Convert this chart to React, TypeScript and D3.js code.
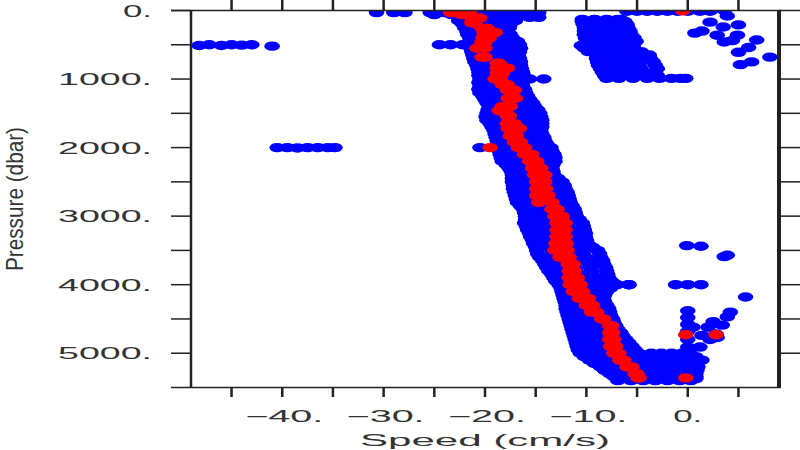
import React from "react";
import * as d3 from "d3";

const xTicks = [-45,-40,-35,-30,-25,-20,-15,-10,-5,0,5];
const xLabels = [-40,-30,-20,-10,0];
const yTicks = [0,500,1000,1500,2000,2500,3000,3500,4000,4500,5000];
const yLabels = [0,1000,2000,3000,4000,5000];

// [pressure, speeds...]
const blueBand: number[][] = [
[30,-25.4,-24,-22.6,-21.2,-19.8,-18.4,-17,-15.6,-14.7],
[60,-25,-23.3,-21.9,-20.5,-19.1,-17.7,-16.3,-15.2],
[100,-22.5,-21,-19.6,-18.2,-16.8,-15.6,-14.7],
[150,-22.6,-21.3,-20,-18.8,-17.6,-17],
[200,-22.2,-20.8,-19.4,-18,-17.5],
[250,-22,-20.6,-19.2,-18,-17.6],
[300,-21.8,-20.5,-19.2,-17.8],
[350,-21.7,-20.4,-19.1,-17.9,-17.5],
[400,-21.5,-20.2,-18.9,-17.3],
[450,-21.4,-20,-18.6,-17.4,-16.8],
[500,-24.5,-23.4,-22.2,-21,-19.8,-18.5,-17.5,-16.6],
[550,-21.4,-20.1,-18.8,-17.6,-16.5],
[600,-21.3,-20,-18.7,-17.5,-16.6],
[650,-21.2,-19.9,-18.6,-17.4,-16.7],
[700,-21.1,-19.8,-18.5,-17.4,-16.6],
[750,-21,-19.7,-18.4,-17.3,-16.5],
[800,-20.8,-19.6,-18.4,-17.3,-16.5],
[850,-20.7,-19.5,-18.3,-17.2,-16.4],
[900,-20.6,-19.4,-18.2,-17.1,-16.3],
[950,-20.6,-19.3,-18.1,-17,-16.2],
[1000,-20.5,-19.2,-18,-16.8,-15.6,-14.2],
[1050,-20.6,-19.3,-18.1,-16.9,-16.4],
[1100,-20.5,-19.2,-18,-17,-16.3],
[1150,-20.6,-19.3,-18.1,-17,-16.1],
[1200,-20.5,-19.2,-18,-17,-16],
[1250,-20.2,-19,-17.8,-16.8,-15.8],
[1300,-20,-18.8,-17.6,-16.6,-15.6],
[1350,-19.8,-18.6,-17.4,-16.3,-15.3],
[1400,-19.6,-18.4,-17.2,-16.1,-15.1],
[1450,-19.7,-18.4,-17.1,-16,-14.8],
[1500,-19.8,-18.5,-17.2,-15.9,-14.6],
[1550,-19.9,-18.6,-17.3,-15.9,-14.5],
[1600,-19.8,-18.5,-17.2,-15.8,-14.4],
[1650,-19.5,-18.2,-17,-15.7,-14.4],
[1700,-19.3,-18,-16.8,-15.6,-14.4],
[1750,-19.1,-17.9,-16.7,-15.5,-14.5],
[1800,-19,-17.8,-16.6,-15.5,-14.4],
[1850,-18.9,-17.7,-16.5,-15.3,-14.2],
[1900,-18.8,-17.6,-16.4,-15.2,-14.1],
[1950,-18.7,-17.4,-16.2,-15,-13.9],
[2000,-20.5,-19,-17.6,-16.2,-14.8,-13.5],
[2050,-18.6,-17.3,-16.1,-14.8,-13.4],
[2100,-18.5,-17.2,-16,-14.6,-13.2],
[2150,-18.4,-17.1,-15.9,-14.5,-13.1],
[2200,-18.3,-17,-15.8,-14.4,-13.1],
[2250,-17.9,-16.7,-15.6,-14.4,-13.3],
[2300,-17.6,-16.5,-15.4,-14.4,-13.4],
[2350,-17.4,-16.3,-15.3,-14.3,-13.3],
[2400,-17.3,-16.2,-15.2,-14.2,-13.2],
[2450,-17.3,-16.1,-15,-13.9,-12.8],
[2500,-17.3,-16,-14.8,-13.6,-12.4],
[2550,-17.2,-16,-14.7,-13.5,-12.2],
[2600,-17.2,-16,-14.6,-13.3,-12.1],
[2650,-17.1,-15.8,-14.5,-13.2,-11.9],
[2700,-17,-15.7,-14.4,-13.1,-11.8],
[2750,-16.9,-15.6,-14.3,-13,-11.7],
[2800,-16.8,-15.5,-14.2,-12.9,-11.6],
[2850,-16.5,-15.2,-14,-12.7,-11.4],
[2900,-16.2,-15,-13.8,-12.5,-11.2],
[2950,-16.1,-14.9,-13.7,-12.4,-11.1],
[3000,-16,-14.8,-13.6,-12.3,-11],
[3050,-16,-14.8,-13.5,-12.1,-10.7],
[3100,-16.1,-14.8,-13.4,-11.9,-10.4],
[3150,-15.9,-14.6,-13.2,-11.8,-10.3],
[3200,-15.8,-14.4,-13,-11.6,-10.2],
[3250,-15.6,-14.3,-12.9,-11.5,-10.1],
[3300,-15.5,-14.2,-12.8,-11.4,-10.1],
[3350,-15.3,-14,-12.6,-11.3,-10],
[3400,-15.2,-13.9,-12.5,-11.2,-9.9],
[3450,-15,-13.6,-12.2,-10.8,-9.4],
[3500,-14.9,-13.4,-11.9,-10.4,-8.9],
[3550,-14.8,-13.3,-11.8,-10.3,-8.7],
[3600,-14.6,-13.1,-11.6,-10.1,-8.6],
[3650,-14.3,-12.9,-11.4,-9.9,-8.4],
[3700,-14.1,-12.7,-11.2,-9.7,-8.3],
[3750,-13.9,-12.6,-11.1,-9.6,-8.1],
[3800,-13.7,-12.4,-11,-9.5,-8],
[3850,-13.4,-12.1,-10.8,-9.4,-7.9],
[3900,-13.2,-11.9,-10.5,-9.2,-7.8],
[3950,-13,-11.6,-10.2,-8.9,-7.5],
[4000,-12.7,-11.3,-9.9,-8.5,-7.1,-5.8],
[4050,-12.5,-11.3,-10.1,-8.9,-7.6],
[4100,-12.4,-11.2,-10.2,-9.1,-8],
[4150,-12.3,-11.2,-10.2,-9.2,-8.2],
[4200,-12.2,-11.1,-10.1,-9.2,-8.3],
[4250,-12.1,-11,-10,-9.1,-8.2],
[4300,-12,-11,-10,-9,-8],
[4350,-12,-10.9,-9.9,-8.9,-7.8],
[4400,-11.9,-10.8,-9.8,-8.7,-7.7],
[4450,-11.8,-10.7,-9.7,-8.6,-7.6],
[4500,-11.7,-10.6,-9.6,-8.5,-7.4],
[4550,-11.6,-10.5,-9.4,-8.4,-7.3],
[4600,-11.5,-10.4,-9.3,-8.2,-7.1],
[4650,-11.4,-10.3,-9.1,-8,-6.9],
[4700,-11.3,-10.2,-9,-7.8,-6.6],
[4750,-11.2,-10,-8.8,-7.6,-6.4],
[4800,-11.1,-9.9,-8.7,-7.4,-6.1],
[4850,-11,-9.8,-8.5,-7.2,-5.8],
[4900,-10.9,-9.6,-8.2,-6.9,-5.5],
[4950,-10.8,-9.4,-8,-6.6,-5.2],
[5000,-10.6,-9.2,-7.8,-6.3,-4.8,-3.6,-2.6,-1.6,-0.6,0.2],
[5050,-10.2,-8.8,-7.4,-6,-4.6,-3.4,-2.2,-1.2,-0.2,0.8],
[5100,-9.7,-8.4,-7,-5.7,-4.4,-3.2,-2,-0.8,0.4,1.4],
[5150,-9.2,-7.9,-6.6,-5.3,-4.1,-2.9,-1.7,-0.5,0.7],
[5200,-8.6,-7.4,-6.2,-5,-3.8,-2.6,-1.4,-0.2,1],
[5250,-8.2,-7,-5.8,-4.6,-3.4,-2.2,-1,0.2,0.9],
[5300,-7.7,-6.6,-5.4,-4.2,-3,-1.8,-0.6,0.8],
[5340,-7.3,-6.2,-5,-3.8,-2.6,-1.4,-0.2,0.8],
[5370,-7,-5.9,-4.8,-3.6,-2.4,-1.2,0,0.8],
[5400,-6.9,-5.6,-4.4,-3.2,-2,-0.8,0.3],
];

// [pressure, speeds...] blue cluster between -11 and 0 cm/s near the surface
const blueCluster: number[][] = [
[130,-10.4,-9.2,-8,-6.9,-6.6],
[160,-10.4,-9.2,-7.8,-6.6,-6.2],
[200,-10.3,-9.1,-7.9,-6.7,-6],
[250,-10.2,-9,-7.8,-6.6,-5.9],
[300,-10.2,-9,-7.8,-6.6,-5.7],
[350,-10.2,-9,-7.8,-6.4,-5.6],
[400,-10.1,-8.9,-7.7,-6.3,-5.3],
[450,-10,-8.8,-7.6,-6.2,-5.1],
[510,-10.5,-9.2,-7.8,-6.6,-5.4],
[550,-10.2,-9,-7.6,-6.3,-5.3],
[600,-9.8,-8.6,-7.4,-6,-4.6],
[650,-9,-7.8,-6.6,-5.4,-3.8],
[700,-9,-7.8,-6.4,-5,-3.7],
[750,-8.9,-7.7,-6.3,-4.9,-3.4],
[800,-8.8,-7.6,-6.2,-4.8,-3.2],
[850,-8.6,-7.4,-6,-4.6,-3],
[900,-8.4,-7.2,-5.8,-4.4,-3.2],
[950,-8.2,-7,-5.6,-4.2,-3],
[990,-8,-6.8,-5.4,-4,-2.8,-1.6,-0.7,-0.2],
];

const blueTopSpeed = [-30.7,-29,-27.9,-6,-5,-4,-3,-2,-1,0,1.2,2.2];
const blueTopPressure = [30,30,30,10,10,10,10,10,10,10,10,10];
const blueScatterSpeed = [3.6,3.9,2.2,3.5,5,0.7,1.4,2.9,4.9,6.8,3.6,4.4,6,5,8.1,6.3,5.2];
const blueScatterPressure = [0,80,170,240,210,330,300,360,360,430,460,440,540,610,680,750,790];
const blueFarSpeed = [-48.2,-47.2,-46,-45,-44,-43,-41,-40.5,-39.5,-38.5,-37.5,-36.5,-35.5,-34.8,-0.1,1.3,3.9,3.6,-7,-5.8,-1.2,0,1.3,5.7,0,4.2,3.9,0,0,0,0,0.5,2.5,2,3.4,1.4,2.2,2.9,2.8,1.2,0];
const blueFarPressure = [510,500,510,500,505,500,520,2000,2000,2005,2000,2000,2000,2000,3430,3440,3570,3590,4000,4000,4000,4000,4000,4180,4380,4400,4470,4480,4580,4680,4800,4620,4540,4620,4590,4740,4800,4770,4720,4910,4910];

// [pressure, speeds...]
const redBand: number[][] = [
[30,-23.4,-22.4,-21.5],[60,-22.3],[110,-21.3,-20.5],[180,-21.3,-21],[260,-20.3,-19.8],[320,-20.1,-19],[400,-20.2,-19.6],
[460,-20.3,-20],[550,-20.8,-20],[680,-20.3,-20],[770,-18.8,-18.6],[840,-18.8,-17.8],[920,-18.8,-18.3],[1000,-19,-18.5],
[1080,-18.3,-17.8],[1160,-17.8,-17.1],[1280,-17.7,-17],[1400,-18.3,-17.5],[1460,-18.6,-18],[1540,-17.8,-17.6],[1650,-17.8,-17.1],
[1720,-17.7,-16.6],[1830,-17.5,-16.9],[1920,-17.1,-16.5],[2000,-16.7,-16.1],[2100,-16.1,-15.4],[2200,-15.6,-14.9],[2300,-15.3,-14.5],
[2400,-15.1,-14.1],[2500,-14.9,-14.1],[2600,-14.9,-14],[2700,-14.9,-13.8],[2800,-14.7,-13.4],[2900,-13.4,-12.9],[3000,-13.1,-12.4],
[3100,-12.9,-12.1],[3200,-12.9,-12.1],[3300,-12.9,-12.1],[3400,-13,-12],[3500,-13.1,-11.9],[3600,-12.6,-11.7],[3700,-11.8,-11.3],
[3800,-11.7,-11.2],[3900,-11.7,-10.9],[4000,-11.6,-10.6],[4100,-11.3,-10.4],[4200,-10.7,-9.8],[4300,-10,-9.4],[4400,-9.5,-9],
[4500,-8.5,-8.3],[4600,-7.7,-7.5],[4700,-7.7,-7.4],[4800,-7.7,-7.3],[4900,-7.6,-7.1],[5000,-7.3,-6.8],[5100,-6.7,-6.3],
[5200,-6,-5.5],[5300,-5.2,-5],[5360,-4.9,-4.8],
];
const redExtraSpeed = [-19.5,-0.5,-0.2,2.8,-0.2];
const redExtraPressure = [2000,5,4730,4730,5360];

const width = 800, height = 450;
const x = d3.scaleLinear().domain([-49, 9]).range([191, 779]);
const y = d3.scaleLinear().domain([0, 5500]).range([10.5, 387.5]);

const RX = 7.8, RY = 4.7;
const flat = (rows: number[][]) => rows.flatMap(([p, ...s]) => s.map(v => [v, p]));
const zip = (a: number[], b: number[]) => a.map((v, i) => [v, b[i]]);
const bluePoints = [
  ...flat(blueBand), ...flat(blueCluster),
  ...zip(blueTopSpeed, blueTopPressure), ...zip(blueScatterSpeed, blueScatterPressure), ...zip(blueFarSpeed, blueFarPressure),
];
const redPoints = [...flat(redBand), ...zip(redExtraSpeed, redExtraPressure)];
const font = "'Liberation Sans', Arial, sans-serif";

export default function App() {
  return (
    <svg width={width} height={height} style={{ position: "fixed", left: 0, top: 0, background: "#fff" }}>
      <defs>
        <clipPath id="plot"><rect x={0} y={y(0)} width={width} height={height} /></clipPath>
      </defs>
      <g clipPath="url(#plot)">
        {bluePoints.map(([s, p], i) => <ellipse key={i} cx={x(s)} cy={y(p)} rx={RX} ry={RY} fill="#0000ff" />)}
        {redPoints.map(([s, p], i) => <ellipse key={i} cx={x(s)} cy={y(p)} rx={RX} ry={RY} fill="#ff0000" />)}
      </g>
      <g stroke="#222" fill="none">
        <line x1={171} x2={781} y1={y(0)} y2={y(0)} strokeWidth={1.5} />
        <line x1={171} x2={781} y1={y(5500)} y2={y(5500)} strokeWidth={1.5} />
        <line x1={191} x2={191} y1={y(0)} y2={y(5500)} strokeWidth={2.5} />
        <line x1={779} x2={779} y1={y(0)} y2={y(5500)} strokeWidth={4} />
        {yTicks.map(t => <g key={t}>
          <line x1={171} x2={191} y1={y(t)} y2={y(t)} strokeWidth={1.5} />
          <line x1={779} x2={800} y1={y(t)} y2={y(t)} strokeWidth={1.5} />
        </g>)}
        {xTicks.map(t => <g key={t}>
          <line x1={x(t)} x2={x(t)} y1={y(5500)} y2={397} strokeWidth={2.5} />
          <line x1={x(t)} x2={x(t)} y1={y(0)} y2={0} strokeWidth={2.5} />
        </g>)}
      </g>
      <g fill="#333" fontFamily={font} fontSize={16}>
        {yLabels.map(t => {
          const s = `${t}.`;
          const w = t === 0 ? 29 : 94;
          return <text key={t} x={152 - w} y={y(t) + 6} textLength={w} lengthAdjust="spacingAndGlyphs">{s}</text>;
        })}
        {xLabels.map(t => {
          const s = t < 0 ? `\u2212${-t}.` : `${t}.`;
          const w = t === 0 ? 29 : 78;
          return <text key={t} x={x(t) + (t === 0 ? 0 : 2) - w / 2} y={422} textLength={w} lengthAdjust="spacingAndGlyphs">{s}</text>;
        })}
        <text x={360} y={446} textLength={250} lengthAdjust="spacingAndGlyphs">Speed (cm/s)</text>
        <text transform="translate(23,271) rotate(-90)" x={0} y={0} fontSize={24} textLength={144} lengthAdjust="spacingAndGlyphs">Pressure (dbar)</text>
      </g>
    </svg>
  );
}
